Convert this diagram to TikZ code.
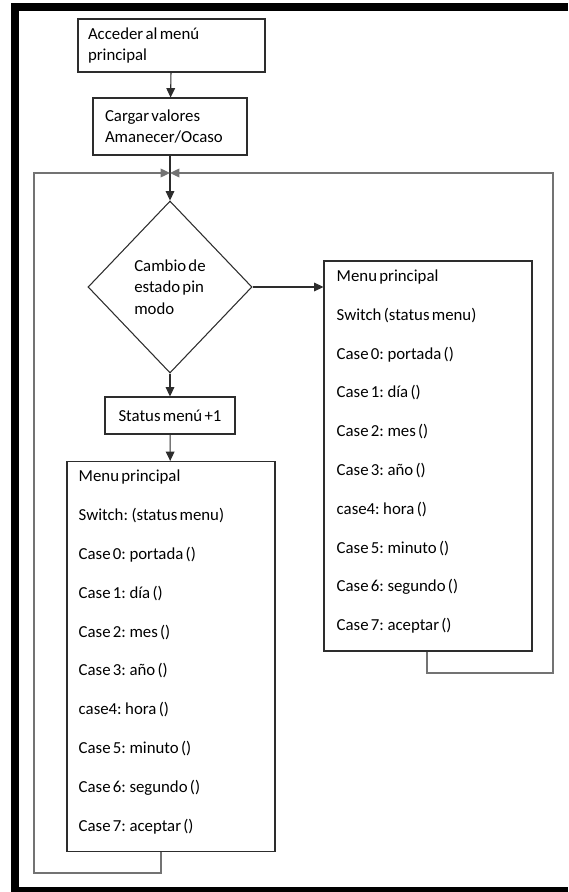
\documentclass[tikz,border=0pt]{standalone}
\usepackage{fontspec}
\setmainfont{Carlito}[WordSpace=0.6]
\usetikzlibrary{shapes.geometric,positioning,calc,arrows.meta}
\definecolor{boxline}{RGB}{45,45,45}
\definecolor{loopgray}{RGB}{115,115,115}

\begin{document}
\begin{tikzpicture}[
  x=0.75pt, y=-0.75pt,
  font=\fontsize{12.6}{16}\selectfont,
  stepbox/.style={rectangle, draw=boxline, line width=0.8pt, inner sep=0pt,
    align=flush left},
  decbox/.style={diamond, draw=boxline, line width=0.8pt, inner sep=0pt,
    minimum width=123pt, minimum height=129pt, align=left},
  menubox/.style={rectangle, draw=boxline, line width=0.8pt,
    minimum width=156pt, minimum height=292.5pt},
  item/.style={anchor=base west, inner sep=0pt},
  flow/.style={-{Triangle[length=7pt,width=6.5pt]}, boxline, line width=0.8pt},
  back/.style={-{Triangle[length=7pt,width=6.5pt]}, loopgray, line width=1pt},
]
  \useasboundingbox (0,0) rectangle (568,892);
  % black frame of the page
  \fill[black] (11,3) rectangle (568,11);
  \fill[black] (11,3) rectangle (19,892);
  \fill[black] (11,887) rectangle (568,892);

  % main column
  \node[stepbox, minimum width=140.25pt, minimum height=39.75pt,
    text width=125.25pt] (acc) at (171.5,45.5)
    {Acceder al menú\\principal};
  \node[stepbox, minimum width=115.5pt, minimum height=42.75pt,
    text width=97.5pt] (carg) at (170,126.5)
    {Cargar valores\\Amanecer/Ocaso};
  \coordinate (join) at (170,173);
  \node[decbox] (dec) at (170,287) {Cambio de\\estado pin\\modo};
  \node[stepbox, minimum width=97.5pt, minimum height=27.75pt,
    align=center] (stat) at (170,415.5) {Status menú +1};
  \node[menubox] (lmenu) at (171,656.5) {};
  \node[menubox] (rmenu) at (428,456) {};

  % menu entries
  \foreach \txt [count=\i from 0] in {Menu principal, Switch: (status menu),
      Case 0: portada (), Case 1: día (), Case 2: mes (), Case 3: año (),
      case4: hora (), Case 5: minuto (), Case 6: segundo (), Case 7: aceptar ()}
    \node[item] (l\i) at ($(lmenu.north west)+(12,21+38.8*\i)$) {\txt};
  \foreach \txt [count=\i from 0] in {Menu principal, Switch (status menu),
      Case 0: portada (), Case 1: día (), Case 2: mes (), Case 3: año (),
      case4: hora (), Case 5: minuto (), Case 6: segundo (), Case 7: aceptar ()}
    \node[item] (r\i) at ($(rmenu.north west)+(13,21+38.8*\i)$) {\txt};

  % connectors
  \draw[flow] (acc) -- (carg);
  \draw[boxline, line width=0.8pt] (carg) -- (join);
  \draw[flow] (join) -- (dec);
  \draw[flow] (dec.east) -- (dec.east -| rmenu.west);
  \draw[flow] (dec) -- (stat);
  \draw[flow] (stat) -- (lmenu);

  % loops back to the top
  \coordinate (lcorner) at (34,873);
  \coordinate (rcorner) at (553,673);
  \draw[back] ($(lmenu.south)+(-10,0)$) |- (lcorner) |- (join);
  \draw[back] ($(rmenu.south)+(-1,0)$) |- (rcorner) |- (join);
\end{tikzpicture}
\end{document}
